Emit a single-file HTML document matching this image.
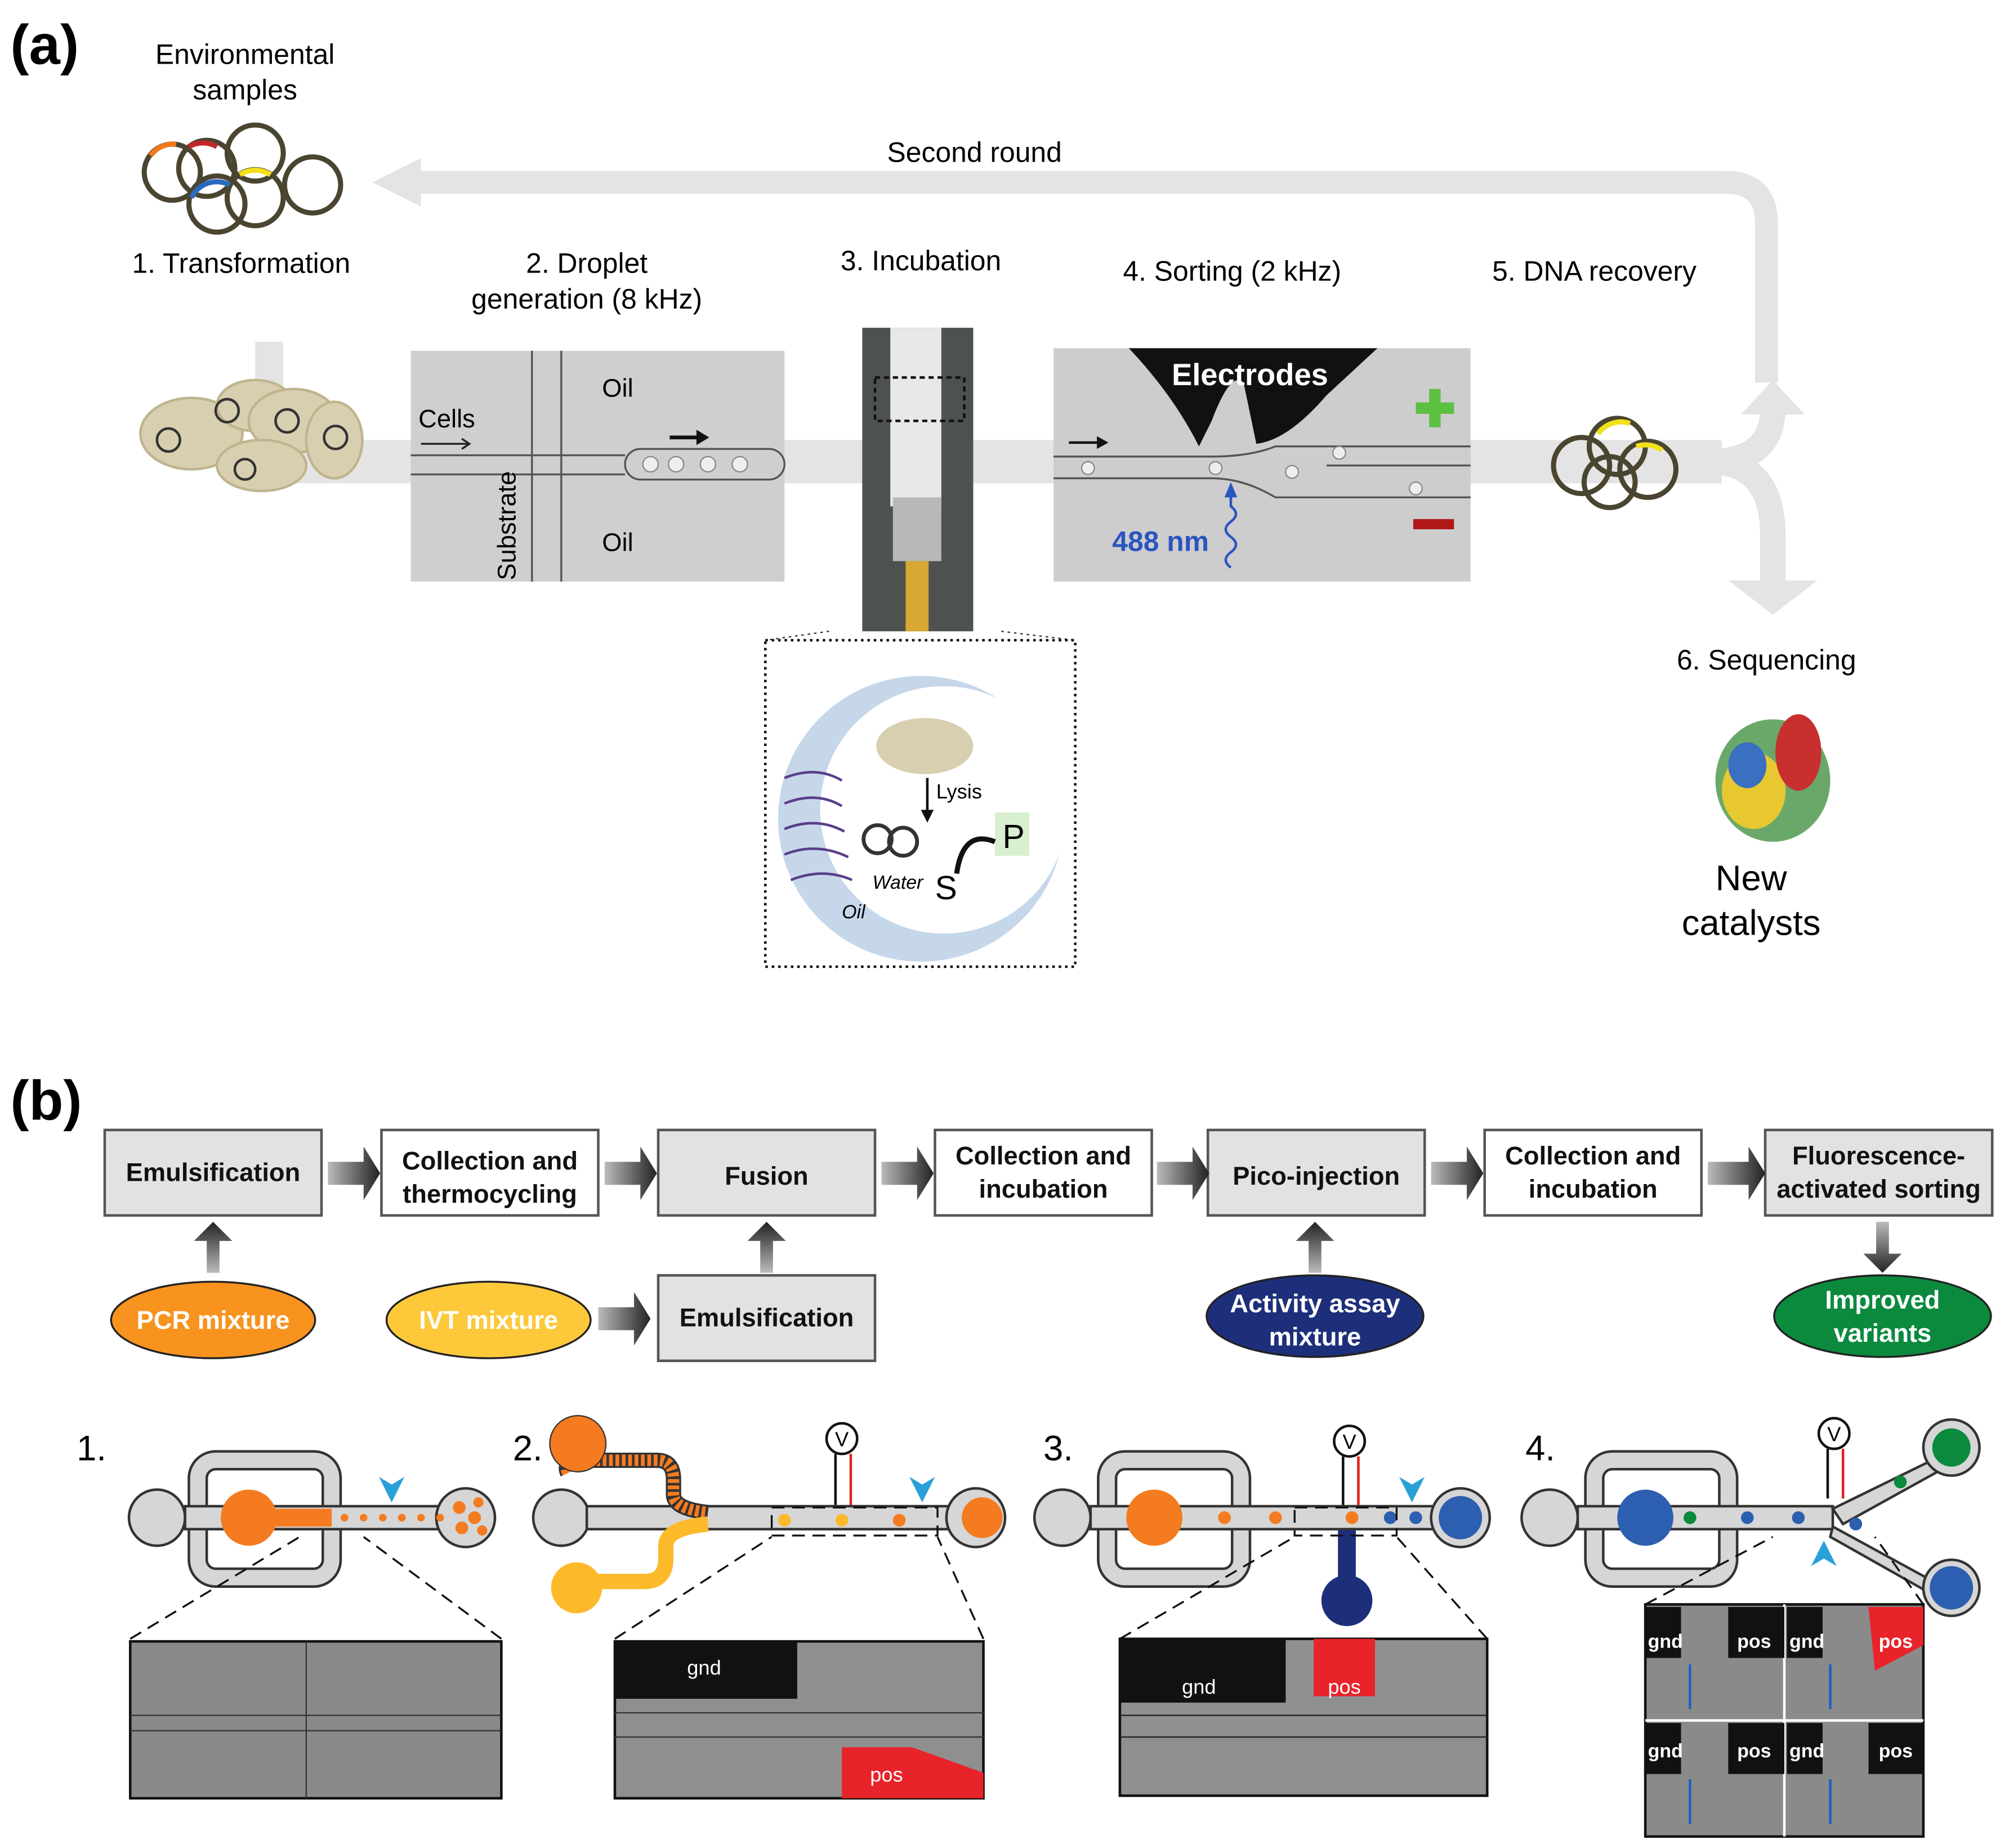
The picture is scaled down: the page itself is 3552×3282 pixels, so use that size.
<!DOCTYPE html>
<html><head><meta charset="utf-8"><style>html,body{margin:0;padding:0;background:#fff}svg{display:block}</style></head><body>
<svg xmlns="http://www.w3.org/2000/svg" width="3552" height="3282" viewBox="0 0 1568 1449" font-family="Liberation Sans, sans-serif">
<defs>
<linearGradient id="ga" x1="0" x2="1"><stop offset="0" stop-color="#bbb"/><stop offset="1" stop-color="#222"/></linearGradient>
<linearGradient id="gv" x1="0" y1="1" x2="0" y2="0"><stop offset="0" stop-color="#bbb"/><stop offset="1" stop-color="#222"/></linearGradient>
<linearGradient id="gd" x1="0" y1="0" x2="0" y2="1"><stop offset="0" stop-color="#bbb"/><stop offset="1" stop-color="#222"/></linearGradient>
</defs>
<!-- (a) -->
<text x="8" y="50" font-size="44" font-weight="bold">(a)</text>
<text x="192" y="50" font-size="22" text-anchor="middle">Environmental</text>
<text x="192" y="78" font-size="22" text-anchor="middle">samples</text>
<g fill="none" stroke="#4a4530" stroke-width="4">
<circle cx="135" cy="135" r="22"/><circle cx="162" cy="132" r="22"/><circle cx="200" cy="120" r="22"/><circle cx="245" cy="145" r="22"/><circle cx="170" cy="160" r="22"/><circle cx="200" cy="155" r="22"/></g>
<path d="M118 122 a22 22 0 0 1 20 -9" stroke="#f07a1a" stroke-width="4" fill="none"/>
<path d="M148 115 a22 22 0 0 1 22 0" stroke="#c0282c" stroke-width="4" fill="none"/>
<path d="M188 137 a22 22 0 0 1 24 0" stroke="#f2e01a" stroke-width="4" fill="none"/>
<path d="M150 155 a22 22 0 0 1 30 -10" stroke="#2a6ac0" stroke-width="4" fill="none"/>
<path d="M1385 300 V175 Q1385 143 1353 143 H320" stroke="#e4e4e4" stroke-width="18" fill="none"/>
<polygon points="292,143 330,124 330,162" fill="#e4e4e4"/>
<text x="764" y="127" font-size="22" text-anchor="middle">Second round</text>
<rect x="200" y="268" width="22" height="100" fill="#e4e4e4"/>
<rect x="200" y="345" width="1150" height="34" fill="#e4e4e4"/>
<path d="M1340 362 Q1390 362 1390 320" stroke="#e4e4e4" stroke-width="20" fill="none"/>
<polygon points="1390,298 1365,325 1415,325" fill="#e4e4e4"/>
<path d="M1340 362 Q1390 362 1390 420 V455" stroke="#e4e4e4" stroke-width="20" fill="none"/>
<polygon points="1390,482 1355,455 1425,455" fill="#e4e4e4"/>
<g font-size="22" text-anchor="middle">
<text x="189" y="214">1. Transformation</text>
<text x="460" y="214">2. Droplet</text><text x="460" y="242">generation (8 kHz)</text>
<text x="722" y="212">3. Incubation</text>
<text x="966" y="220">4. Sorting (2 kHz)</text>
<text x="1250" y="220">5. DNA recovery</text>
</g>
<g fill="#d8cfb0" stroke="#bfb48e" stroke-width="2">
<ellipse cx="150" cy="340" rx="40" ry="28"/><ellipse cx="200" cy="318" rx="30" ry="20"/><ellipse cx="230" cy="330" rx="35" ry="25"/><ellipse cx="262" cy="345" rx="22" ry="30"/><ellipse cx="205" cy="365" rx="35" ry="20"/></g>
<g fill="none" stroke="#333" stroke-width="2"><circle cx="132" cy="345" r="9"/><circle cx="178" cy="322" r="9"/><circle cx="225" cy="330" r="9"/><circle cx="263" cy="343" r="9"/><circle cx="192" cy="368" r="8"/></g>
<rect x="322" y="275" width="293" height="181" fill="#cfcfcf"/>
<g stroke="#555" stroke-width="1.5" fill="none">
<line x1="322" y1="357" x2="490" y2="357"/><line x1="322" y1="372" x2="490" y2="372"/>
<line x1="417" y1="275" x2="417" y2="456"/><line x1="440" y1="275" x2="440" y2="456"/>
<rect x="490" y="352" width="125" height="24" rx="12"/>
</g>
<g fill="#eee" stroke="#888"><circle cx="510" cy="364" r="6"/><circle cx="530" cy="364" r="6"/><circle cx="555" cy="364" r="6"/><circle cx="580" cy="364" r="6"/></g>
<g font-size="20"><text x="328" y="335">Cells</text><text x="472" y="311">Oil</text><text x="472" y="432">Oil</text>
<text x="404" y="455" transform="rotate(-90 404 455)">Substrate</text></g>
<path d="M330 348 H368 M362 344 L368 348 362 352" stroke="#222" stroke-width="1.5" fill="none"/>
<path d="M525 343 H553" stroke="#111" stroke-width="3"/><polygon points="556,343 546,337 546,349" fill="#111"/>
<rect x="676" y="257" width="87" height="238" fill="#4e524e"/>
<rect x="698" y="257" width="40" height="140" fill="#e8e8e8"/>
<rect x="700" y="390" width="38" height="50" fill="#b8b8b8"/>
<rect x="710" y="440" width="18" height="55" fill="#d9a832"/>
<rect x="686" y="296" width="70" height="34" fill="none" stroke="#111" stroke-width="2" stroke-dasharray="4 3"/>
<line x1="650" y1="495" x2="600" y2="502" stroke="#333" stroke-dasharray="2 3"/><line x1="785" y1="495" x2="843" y2="502" stroke="#333" stroke-dasharray="2 3"/>
<rect x="826" y="273" width="327" height="183" fill="#cdcdcd"/>
<path d="M885 273 H1080 L1040 310 Q1010 345 985 348 L975 300 Q965 290 950 330 L940 350 Q920 310 885 273Z" fill="#111"/>
<text x="980" y="302" font-size="24" font-weight="bold" fill="#fff" text-anchor="middle">Electrodes</text>
<g stroke="#555" stroke-width="1.5" fill="none"><path d="M826 358 H950 Q980 358 1000 350 H1153"/><path d="M826 375 H950 Q975 375 1000 390 H1153"/><path d="M1040 365 H1153"/></g>
<g fill="#eee" stroke="#888"><circle cx="853" cy="367" r="5"/><circle cx="953" cy="367" r="5"/><circle cx="1013" cy="370" r="5"/><circle cx="1050" cy="355" r="5"/><circle cx="1110" cy="383" r="5"/></g>
<path d="M838 347 H865" stroke="#111" stroke-width="2"/><polygon points="869,347 860,342 860,352" fill="#111"/>
<path d="M1110 320 H1140 M1125 305 V335" stroke="#5cc040" stroke-width="9"/>
<rect x="1108" y="407" width="32" height="8" fill="#b01818"/>
<text x="872" y="432" font-size="22" font-weight="bold" fill="#2a55c0">488 nm</text>
<path d="M965 445 q-8 -6 0 -12 q8 -6 0 -12 q-8 -6 0 -12 q8 -6 0 -12 V385" stroke="#2a55c0" stroke-width="2" fill="none"/><polygon points="965,378 960,390 970,390" fill="#2a55c0"/>
<g fill="none" stroke="#4a4530" stroke-width="4"><circle cx="1240" cy="365" r="22"/><circle cx="1268" cy="350" r="22"/><circle cx="1292" cy="368" r="22"/><circle cx="1262" cy="378" r="20"/></g>
<path d="M1253 340 a22 22 0 0 1 25 -8 M1283 350 a22 22 0 0 1 20 3" stroke="#f2e01a" stroke-width="4" fill="none"/>
<rect x="600" y="502" width="243" height="256" fill="none" stroke="#111" stroke-width="2" stroke-dasharray="2 3"/>
<circle cx="722" cy="642" r="112" fill="#c6d7ea"/>
<circle cx="740" cy="635" r="97" fill="#fff"/>
<g stroke="#5a3d8a" stroke-width="2" fill="none"><path d="M615 610 Q640 600 660 612"/><path d="M615 630 Q640 620 660 632"/><path d="M615 650 Q640 640 662 652"/><path d="M615 670 Q640 660 665 672"/><path d="M620 690 Q645 680 668 690"/></g>
<ellipse cx="725" cy="585" rx="38" ry="22" fill="#d8cfb0"/>
<line x1="727" y1="610" x2="727" y2="640" stroke="#111" stroke-width="2"/><polygon points="727,645 722,635 732,635" fill="#111"/>
<text x="734" y="626" font-size="16">Lysis</text>
<g fill="none" stroke="#333" stroke-width="3"><circle cx="688" cy="658" r="11"/><circle cx="708" cy="660" r="11"/></g>
<rect x="780" y="637" width="27" height="34" fill="#d9f0d0"/>
<text x="786" y="665" font-size="26">P</text><text x="733" y="705" font-size="26">S</text>
<path d="M750 685 Q755 650 780 660" stroke="#111" stroke-width="4" fill="none"/>
<text x="684" y="697" font-size="15" font-style="italic">Water</text><text x="660" y="720" font-size="15" font-style="italic">Oil</text>
<text x="1385" y="525" font-size="22" text-anchor="middle">6. Sequencing</text>
<ellipse cx="1390" cy="612" rx="45" ry="48" fill="#6aa86a"/>
<ellipse cx="1375" cy="620" rx="25" ry="30" fill="#e8c830"/><ellipse cx="1410" cy="590" rx="18" ry="30" fill="#c83030"/><ellipse cx="1370" cy="600" rx="15" ry="18" fill="#3a70c0"/>
<text x="1373" y="698" font-size="28" text-anchor="middle">New</text><text x="1373" y="733" font-size="28" text-anchor="middle">catalysts</text>
<!-- (b) -->
<text x="8" y="878" font-size="44" font-weight="bold">(b)</text>
<g stroke="#555" stroke-width="2">
<rect x="82" y="886" width="170" height="67" fill="#e1e2e4"/><rect x="299" y="886" width="170" height="67" fill="#fff"/>
<rect x="516" y="886" width="170" height="67" fill="#e1e2e4"/><rect x="733" y="886" width="170" height="67" fill="#fff"/>
<rect x="947" y="886" width="170" height="67" fill="#e1e2e4"/><rect x="1164" y="886" width="170" height="67" fill="#fff"/>
<rect x="1384" y="886" width="178" height="67" fill="#e1e2e4"/><rect x="516" y="1000" width="170" height="67" fill="#e1e2e4"/>
</g>
<g font-size="20" font-weight="bold" text-anchor="middle" fill="#111">
<text x="167" y="926">Emulsification</text>
<text x="384" y="917">Collection and</text><text x="384" y="943">thermocycling</text>
<text x="601" y="929">Fusion</text>
<text x="818" y="913">Collection and</text><text x="818" y="939">incubation</text>
<text x="1032" y="929">Pico-injection</text>
<text x="1249" y="913">Collection and</text><text x="1249" y="939">incubation</text>
<text x="1473" y="913">Fluorescence-</text><text x="1473" y="939">activated sorting</text>
<text x="601" y="1040">Emulsification</text>
</g>
<g fill="url(#ga)">
<path d="M257 911 h28 v-12 l13 21 -13 21 v-12 h-28z"/><path d="M474 911 h28 v-12 l13 21 -13 21 v-12 h-28z"/>
<path d="M691 911 h28 v-12 l13 21 -13 21 v-12 h-28z"/><path d="M907 911 h28 v-12 l13 21 -13 21 v-12 h-28z"/>
<path d="M1122 911 h28 v-12 l13 21 -13 21 v-12 h-28z"/><path d="M1339 911 h32 v-12 l13 21 -13 21 v-12 h-32z"/>
<path d="M469 1025 h28 v-12 l13 21 -13 21 v-12 h-28z"/>
</g>
<g fill="url(#gv)">
<path d="M162 998 v-25 h-10 l15 -15 15 15 h-10 v25z"/><path d="M596 998 v-25 h-10 l15 -15 15 15 h-10 v25z"/><path d="M1026 998 v-25 h-10 l15 -15 15 15 h-10 v25z"/>
</g>
<path d="M1471 958 v25 h-10 l15 15 15 -15 h-10 v-25z" fill="url(#gd)"/>
<g stroke="#222" stroke-width="1.5">
<ellipse cx="167" cy="1035" rx="80" ry="30" fill="#f7931e"/><ellipse cx="383" cy="1035" rx="80" ry="30" fill="#fdc83a"/>
<ellipse cx="1031" cy="1032" rx="85" ry="32" fill="#1d2f7a"/><ellipse cx="1476" cy="1032" rx="85" ry="32" fill="#0b8a3e"/></g>
<g font-size="20" font-weight="bold" fill="#fff" text-anchor="middle">
<text x="167" y="1042">PCR mixture</text><text x="383" y="1042">IVT mixture</text>
<text x="1031" y="1029">Activity assay</text><text x="1031" y="1055">mixture</text>
<text x="1476" y="1026">Improved</text><text x="1476" y="1052">variants</text></g>
<!-- bottom chips -->
<g font-size="28"><text x="60" y="1145">1.</text><text x="402" y="1145">2.</text><text x="818" y="1145">3.</text><text x="1196" y="1145">4.</text></g>
<!-- loops (gray channel rings) -->
<g fill="none">
<rect x="155" y="1145" width="105" height="92" rx="14" stroke="#333" stroke-width="16"/><rect x="155" y="1145" width="105" height="92" rx="14" stroke="#d6d6d6" stroke-width="12"/>
<rect x="868" y="1145" width="105" height="92" rx="14" stroke="#333" stroke-width="16"/><rect x="868" y="1145" width="105" height="92" rx="14" stroke="#d6d6d6" stroke-width="12"/>
<rect x="1250" y="1145" width="105" height="92" rx="14" stroke="#333" stroke-width="16"/><rect x="1250" y="1145" width="105" height="92" rx="14" stroke="#d6d6d6" stroke-width="12"/>
</g>
<g fill="#d6d6d6" stroke="#333" stroke-width="2">
<circle cx="123" cy="1190" r="22"/><rect x="145" y="1181" width="230" height="18"/><circle cx="365" cy="1190" r="23"/>
<circle cx="440" cy="1190" r="22"/><rect x="460" y="1181" width="305" height="18"/><circle cx="765" cy="1190" r="23"/>
<circle cx="833" cy="1190" r="22"/><rect x="855" y="1181" width="290" height="18"/><circle cx="1145" cy="1190" r="23"/>
<circle cx="1215" cy="1190" r="22"/><rect x="1237" y="1181" width="200" height="18"/>
<path d="M1437 1183 L1525 1140 L1530 1148 L1445 1195Z"/><path d="M1437 1197 L1525 1245 L1520 1253 L1435 1205Z"/>
<circle cx="1530" cy="1135" r="22"/><circle cx="1530" cy="1245" r="22"/>
</g>
<circle cx="195" cy="1190" r="22" fill="#f47b20"/><rect x="210" y="1183" width="50" height="14" fill="#f47b20"/>
<g fill="#f47b20"><circle cx="270" cy="1190" r="3"/><circle cx="285" cy="1190" r="3"/><circle cx="300" cy="1190" r="3"/><circle cx="315" cy="1190" r="3"/><circle cx="330" cy="1190" r="3"/><circle cx="345" cy="1190" r="3"/><circle cx="360" cy="1182" r="5"/><circle cx="372" cy="1190" r="5"/><circle cx="362" cy="1198" r="5"/><circle cx="375" cy="1178" r="4"/><circle cx="378" cy="1200" r="4"/></g>
<path d="M445 1155 Q440 1145 460 1145 H515 Q528 1145 528 1160 V1172 Q528 1183 555 1186" stroke="#333" stroke-width="12" fill="none"/>
<path d="M445 1155 Q440 1145 460 1145 H515 Q528 1145 528 1160 V1172 Q528 1183 555 1186" stroke="#f47b20" stroke-width="9" fill="none" stroke-dasharray="3 2"/>
<circle cx="453" cy="1132" r="22" fill="#f47b20" stroke="#333"/>
<path d="M450 1240 H505 Q522 1240 522 1222 V1212 Q522 1198 555 1195" stroke="#fcb92a" stroke-width="12" fill="none"/><circle cx="452" cy="1245" r="20" fill="#fcb92a"/>
<g fill="#fcb92a"><circle cx="615" cy="1192" r="5"/><circle cx="660" cy="1192" r="5"/></g><g fill="#f47b20"><circle cx="705" cy="1192" r="5"/><circle cx="770" cy="1190" r="16"/></g>
<circle cx="905" cy="1190" r="22" fill="#f47b20"/><g fill="#f47b20"><circle cx="960" cy="1190" r="5"/><circle cx="1000" cy="1190" r="5"/><circle cx="1060" cy="1190" r="5"/></g>
<path d="M1056 1200 V1245" stroke="#1d2f7a" stroke-width="14"/><circle cx="1056" cy="1255" r="20" fill="#1d2f7a"/>
<g fill="#2d5fb0"><circle cx="1090" cy="1190" r="5"/><circle cx="1110" cy="1190" r="5"/><circle cx="1145" cy="1190" r="17"/><circle cx="1290" cy="1190" r="22"/><circle cx="1370" cy="1190" r="5"/><circle cx="1410" cy="1190" r="5"/><circle cx="1455" cy="1195" r="5"/><circle cx="1530" cy="1245" r="17"/></g>
<g fill="#0b8a3e"><circle cx="1325" cy="1190" r="5"/><circle cx="1490" cy="1162" r="5"/><circle cx="1530" cy="1135" r="15"/></g>
<g fill="#2aa0d8"><path d="M297 1158 l10 20 10 -20 -10 6z"/><path d="M713 1158 l10 20 10 -20 -10 6z"/><path d="M1097 1158 l10 20 10 -20 -10 6z"/><path d="M1420 1228 l10 -20 10 20 -10 -6z"/></g>
<g fill="#fff" stroke="#111" stroke-width="2"><circle cx="660" cy="1128" r="12"/><circle cx="1058" cy="1130" r="12"/><circle cx="1438" cy="1124" r="12"/></g>
<g font-size="16" text-anchor="middle"><text x="660" y="1134">V</text><text x="1058" y="1136">V</text><text x="1438" y="1130">V</text></g>
<g stroke-width="2"><path d="M655 1140 V1180" stroke="#111"/><path d="M667 1140 V1180" stroke="#e02020"/><path d="M1053 1142 V1180" stroke="#111"/><path d="M1065 1142 V1180" stroke="#e02020"/><path d="M1433 1136 V1175" stroke="#111"/><path d="M1445 1136 V1175" stroke="#e02020"/></g>
<g stroke="#111" stroke-width="1.5" stroke-dasharray="10 6" fill="none">
<path d="M102 1285 L235 1205 M393 1285 L285 1205"/><path d="M482 1285 L605 1205 M771 1285 L735 1205"/><path d="M878 1285 L1015 1205 M1166 1285 L1095 1205"/><path d="M1290 1258 L1390 1205 M1508 1258 L1470 1205"/>
<rect x="605" y="1182" width="130" height="22"/><rect x="1015" y="1182" width="80" height="22"/></g>
<rect x="102" y="1287" width="291" height="123" fill="#8a8a8a" stroke="#111" stroke-width="2"/>
<g stroke="#333"><line x1="102" y1="1345" x2="393" y2="1345"/><line x1="102" y1="1357" x2="393" y2="1357"/><line x1="240" y1="1287" x2="240" y2="1410"/></g>
<rect x="482" y="1287" width="289" height="123" fill="#8f8f8f" stroke="#111" stroke-width="2"/>
<rect x="482" y="1287" width="143" height="45" fill="#111"/><text x="552" y="1313" font-size="16" fill="#fff" text-anchor="middle">gnd</text>
<polygon points="660,1370 715,1370 771,1390 771,1410 660,1410" fill="#e8232a"/><text x="695" y="1397" font-size="16" fill="#fff" text-anchor="middle">pos</text>
<g stroke="#333"><line x1="482" y1="1343" x2="771" y2="1343"/><line x1="482" y1="1362" x2="771" y2="1362"/></g>
<rect x="878" y="1285" width="288" height="123" fill="#8f8f8f" stroke="#111" stroke-width="2"/>
<rect x="878" y="1285" width="130" height="50" fill="#111"/><text x="940" y="1328" font-size="16" fill="#fff" text-anchor="middle">gnd</text>
<rect x="1030" y="1285" width="48" height="45" fill="#e8232a"/><text x="1054" y="1328" font-size="16" fill="#fff" text-anchor="middle">pos</text>
<g stroke="#222"><line x1="878" y1="1345" x2="1166" y2="1345"/><line x1="878" y1="1362" x2="1166" y2="1362"/></g>
<rect x="1290" y="1258" width="218" height="182" fill="#8a8a8a" stroke="#111" stroke-width="2"/>
<line x1="1399" y1="1258" x2="1399" y2="1440" stroke="#fff" stroke-width="2"/><line x1="1290" y1="1349" x2="1508" y2="1349" stroke="#fff" stroke-width="2"/>
<g fill="#111"><rect x="1290" y="1260" width="28" height="40"/><rect x="1355" y="1260" width="44" height="40"/><rect x="1401" y="1260" width="28" height="40"/><rect x="1290" y="1351" width="28" height="40"/><rect x="1355" y="1351" width="44" height="40"/><rect x="1401" y="1351" width="28" height="40"/><rect x="1465" y="1351" width="43" height="40"/></g>
<polygon points="1465,1260 1508,1260 1508,1290 1470,1310" fill="#e8232a"/>
<g font-size="15" fill="#fff" font-weight="bold"><text x="1292" y="1292">gnd</text><text x="1362" y="1292">pos</text><text x="1403" y="1292">gnd</text><text x="1473" y="1292">pos</text><text x="1292" y="1378">gnd</text><text x="1362" y="1378">pos</text><text x="1403" y="1378">gnd</text><text x="1473" y="1378">pos</text></g>
<g stroke="#2060c0" stroke-width="2"><line x1="1325" y1="1305" x2="1325" y2="1340"/><line x1="1435" y1="1305" x2="1435" y2="1340"/><line x1="1325" y1="1395" x2="1325" y2="1430"/><line x1="1435" y1="1395" x2="1435" y2="1430"/></g>
</svg>
</body></html>
